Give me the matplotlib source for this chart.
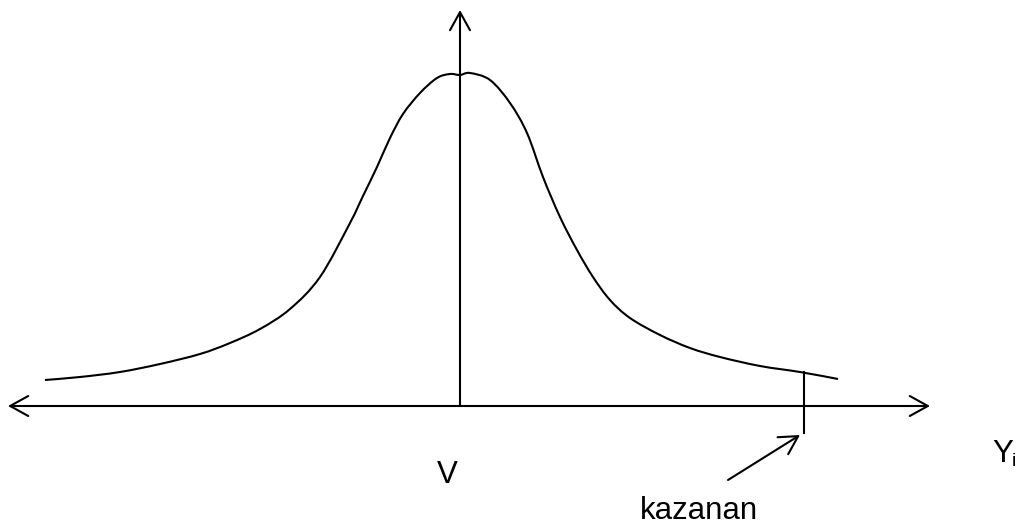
import matplotlib
matplotlib.use("Agg")
import matplotlib.pyplot as plt
from matplotlib.path import Path
from matplotlib.patches import PathPatch

plt.rcParams['font.family'] = ['Liberation Sans', 'DejaVu Sans']

# curve (pixel-like units, y grows downward)
curve_x = [45, 80, 120, 160, 200, 230, 260, 290, 320, 350, 363, 377, 390,
           403, 420, 437, 450, 460, 470, 490, 510, 527, 543, 560,
           577, 593, 610, 630, 660, 690, 720, 760, 800, 838]
curve_y = [380, 377, 372, 364, 354, 343, 329, 309, 277, 223, 196, 167, 138,
           114, 93, 78, 74, 75, 73, 80, 103, 133, 177, 217,
           250, 277, 300, 318, 335, 348, 357, 366, 372, 379]

axis_y = 406
axis_x = 460
x_range = (8, 930)
y_top = 10
winner_x = 804
winner_span = (372, 433)

labels = {"center": "V", "winner": "kazanan", "axis": "Y"}


def smooth_path(xs, ys):
    # Catmull-Rom through the points, drawn as cubic Bezier segments
    pts = list(zip(xs, ys))
    verts = [pts[0]]
    codes = [Path.MOVETO]
    for i in range(len(pts) - 1):
        p0 = pts[i - 1] if i > 0 else pts[i]
        p1, p2 = pts[i], pts[i + 1]
        p3 = pts[i + 2] if i + 2 < len(pts) else pts[i + 1]
        c1 = (p1[0] + (p2[0] - p0[0]) / 6, p1[1] + (p2[1] - p0[1]) / 6)
        c2 = (p2[0] - (p3[0] - p1[0]) / 6, p2[1] - (p3[1] - p1[1]) / 6)
        verts += [c1, c2, p2]
        codes += [Path.CURVE4] * 3
    return Path(verts, codes)


fig = plt.figure(figsize=(10.2, 5.23), dpi=100)
ax = fig.add_axes([0, 0, 1, 1])
ax.set_xlim(0, 1020)
ax.set_ylim(523, 0)
ax.axis('off')

ax.add_patch(PathPatch(smooth_path(curve_x, curve_y), fill=False,
                       edgecolor='black', lw=1.5))

arrow = dict(arrowstyle='<->,head_length=1.3,head_width=0.72', color='black',
             lw=1.5, shrinkA=0, shrinkB=0, mutation_scale=10)
ax.annotate('', xy=(x_range[1], axis_y), xytext=(x_range[0], axis_y), arrowprops=arrow)

single = dict(arrow, arrowstyle='->,head_length=1.3,head_width=0.72')
ax.annotate('', xy=(axis_x, y_top), xytext=(axis_x, axis_y), arrowprops=single)

ax.plot([winner_x, winner_x], winner_span, color='black', lw=1.5)
ax.annotate('', xy=(800, 435), xytext=(728, 480), arrowprops=single)

ax.text(447, 475, labels["center"], fontsize=22.5, ha='center', va='center')
ax.text(699, 519, labels["winner"], fontsize=22.5, ha='center', va='baseline')
ax.text(992, 462, labels["axis"], fontsize=22.5, ha='left', va='baseline')
ax.text(1012, 466, "i", fontsize=14, ha='left', va='baseline')

fig.savefig("out.png", dpi=100)
